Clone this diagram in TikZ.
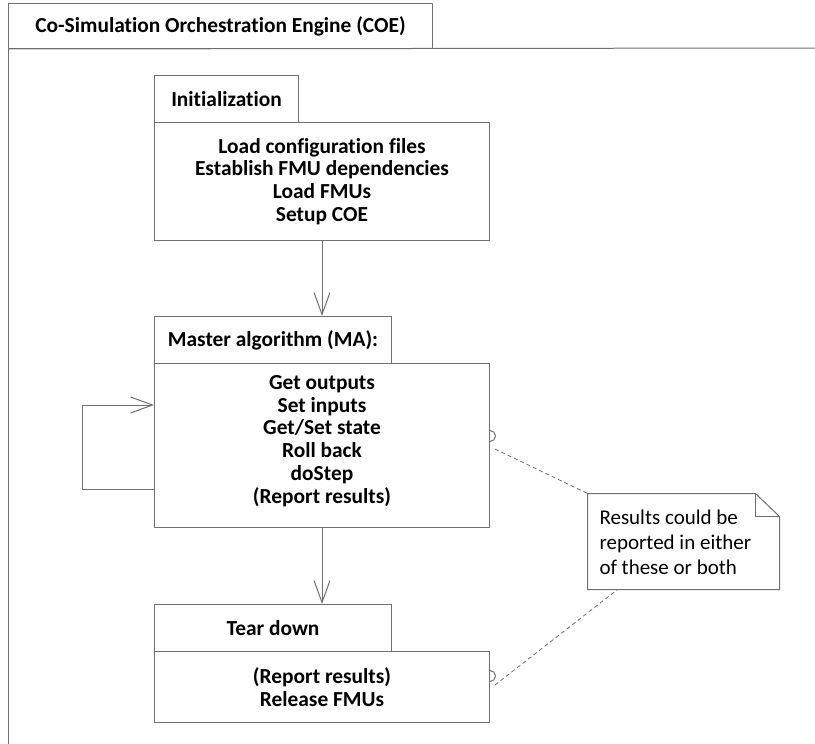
\documentclass[tikz,border=0pt]{standalone}
\usepackage{fontspec}
\setmainfont{Carlito}[Ligatures={NoCommon,NoContextual}]
\usetikzlibrary{arrows.meta,calc}
\definecolor{linegray}{HTML}{707070}
\begin{document}
\begin{tikzpicture}[x=1pt,y=-1pt,
  line width=1pt,
  frame/.style={draw=linegray, line width=1pt, inner sep=0pt, anchor=north west},
  boldtxt/.style={font=\bfseries\fontsize{21.4}{22.7}\selectfont, align=center},
  flow/.style={draw=linegray, -{Straight Barb[length=22pt,width=16pt,line width=1pt]}},
  link/.style={draw=linegray, dash pattern=on 4pt off 3pt, line width=0.8pt},
  port/.style={draw=linegray, line width=1pt}]
\useasboundingbox (0,0) rectangle (815,744);

% outer frame with its name tab
\node[frame, minimum width=424pt, minimum height=45pt, boldtxt] (coetab) at (8,3)
  {Co-Simulation Orchestration Engine (COE)};
\draw[linegray] (coetab.south west) -- (815,48);
\draw[linegray] (coetab.south west) -- (8,744);

% Initialization
\node[frame, minimum width=144pt, minimum height=47pt, boldtxt] (inittab) at (154,75) {Initialization};
\node[frame, minimum width=335pt, minimum height=118pt, boldtxt] (initbody) at (154,122)
  {Load configuration files\\Establish FMU dependencies\\Load FMUs\\Setup COE};

% Master algorithm
\node[frame, minimum width=237pt, minimum height=47pt, boldtxt] (mastab) at (154,316) {Master algorithm (MA):};
\node[frame, minimum width=335pt, minimum height=164pt] (masbody) at (154,363) {};
\node[boldtxt, inner sep=0pt] (mastxt) at ($(masbody.center)+(0,-4.5)$)
  {Get outputs\\Set inputs\\Get/Set state\\Roll back\\doStep\\(Report results)};

% Tear down
\node[frame, minimum width=237pt, minimum height=47pt, boldtxt] (teartab) at (154,604) {Tear down};
\node[frame, minimum width=335pt, minimum height=71pt, boldtxt] (tearbody) at (154,651)
  {(Report results)\\Release FMUs};

% control flow
\draw[flow] (initbody.south -| 322,0) -- (mastab.north -| 322,0);
\draw[flow] (masbody.south -| 322,0) -- (teartab.north -| 322,0);
\coordinate (loopout) at (masbody.west |- 0,489);
\coordinate (loopin) at (masbody.west |- 0,405);
\draw[flow] (loopout) -- (82,489) -- (82,405) -- (loopin);

% note with folded corner
\node[inner sep=0pt, minimum width=191pt, minimum height=95pt] (note) at (683.5,541.5) {};
\draw[linegray] (note.north west) -- ($(note.north east)+(-24,0)$) -- ($(note.north east)+(0,23)$)
  -- (note.south east) -- (note.south west) -- cycle;
\draw[linegray] ($(note.north east)+(-24,0)$) -- ($(note.north east)+(-24,23)$) -- ($(note.north east)+(0,23)$);
\node[anchor=west, align=left, inner sep=0pt, font=\fontsize{21}{25}\selectfont] (notetxt) at (599,542)
  {Results could be\\reported in either\\of these or both};

% ports on the boxes and their links to the note
\coordinate (p1) at (masbody.east |- 0,447);
\coordinate (p2) at (tearbody.east |- 0,687);
\draw[port] ($(p1)+(0,-5.5)$) arc[start angle=90, end angle=-90, radius=5.5];
\draw[port] ($(p2)+(0,-5.5)$) arc[start angle=90, end angle=-90, radius=5.5];
\draw[link] ($(p1)+(5,2)$) -- (note.north west);
\draw[link] ($(p2)+(5,-2)$) -- ($(note.south west)+(30,0)$);
\end{tikzpicture}
\end{document}
